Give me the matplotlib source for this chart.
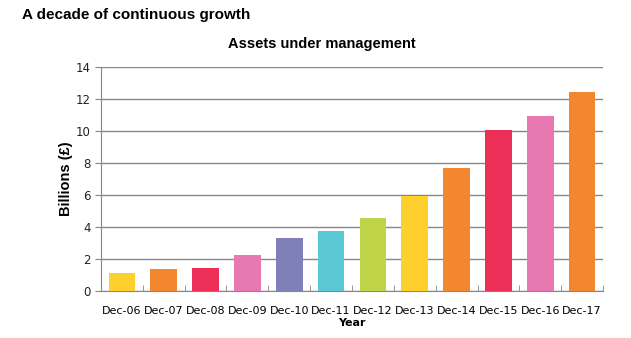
import matplotlib.pyplot as plt
import numpy as np

years = ["Dec-06", "Dec-07", "Dec-08", "Dec-09", "Dec-10", "Dec-11",
         "Dec-12", "Dec-13", "Dec-14", "Dec-15", "Dec-16", "Dec-17"]
assets = [1.13, 1.38, 1.44, 2.25, 3.3, 3.75, 4.58, 5.96, 7.69, 10.06, 10.96, 12.44]
colours = ["#FDD02E", "#F28730", "#EB2F56", "#E878B0", "#7F7FBA", "#5BC8D6",
           "#C0D44A", "#FDD02E", "#F28730", "#EB2F56", "#E878B0", "#F28730"]

fig = plt.figure(figsize=(6.31, 3.38), dpi=100)
ax = fig.add_axes([101 / 631, 1 - 291 / 338, 502 / 631, 224 / 338])

x = np.arange(len(years))
ax.bar(x, assets, width=0.64, color=colours, zorder=3)

ax.set_xlim(-0.5, len(years) - 0.5)
ax.set_ylim(0, 14)
ax.set_yticks(range(0, 15, 2))
ax.yaxis.grid(True, color="#868686", linewidth=1, zorder=0)

# category ticks sit between the bars
ax.set_xticks(x)
ax.set_xticklabels(years, fontsize=8, family="DejaVu Sans")
ax.set_xticks(np.arange(-0.5, len(years)), minor=True)
ax.tick_params(axis="x", which="major", length=0, pad=11)
ax.tick_params(axis="x", which="minor", length=4, color="#868686", direction="in")
ax.tick_params(axis="y", length=4, color="#868686", labelsize=8.5, labelcolor="#222222")

for side in ["top", "right"]:
    ax.spines[side].set_visible(False)
for side in ["left", "bottom"]:
    ax.spines[side].set_color("#868686")

ax.set_ylabel("Billions (\u00a3)", fontsize=10.5, fontweight="bold",
              family="Liberation Sans", labelpad=2)
ax.set_xlabel("Year", fontsize=8, fontweight="bold", family="DejaVu Sans", labelpad=1)

fig.text(22 / 631, 1 - 15 / 338, "A decade of continuous growth", fontsize=11,
         fontweight="bold", family="Liberation Sans", va="center", ha="left")
fig.text(322 / 631, 1 - 44 / 338, "Assets under management", fontsize=10.5,
         fontweight="bold", family="Liberation Sans", va="center", ha="center")

fig.savefig("out.png", dpi=100)
